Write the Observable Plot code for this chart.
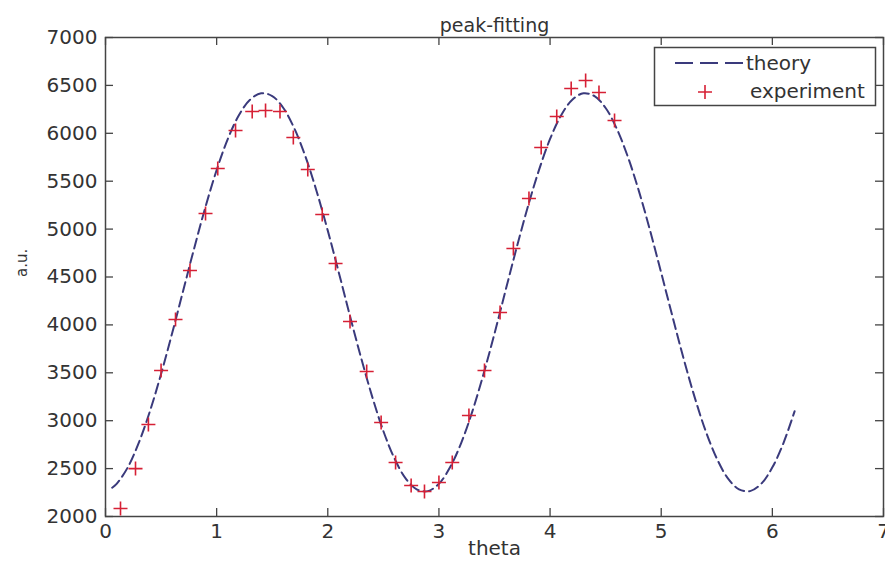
<!DOCTYPE html>
<html>
<head>
<meta charset="utf-8">
<script src="https://cdn.jsdelivr.net/npm/d3@7"></script>
<script src="https://cdn.jsdelivr.net/npm/@observablehq/plot@0.6"></script>
<style>
  html, body { margin: 0; padding: 0; background: #fff; }
  #chart svg { display: block; }
</style>
</head>
<body>
<div id="chart"></div>
<script>
// ---- data ----
const title = "peak-fitting";
const xLabel = "theta";
const yLabel = "a.u.";
const seriesNames = ["theory", "experiment"];

const xTicks = [0, 1, 2, 3, 4, 5, 6, 7];
const yTicks = [2000, 2500, 3000, 3500, 4000, 4500, 5000, 5500, 6000, 6500, 7000];

// theory curve (dashed)
const theoryX = [0.06, 0.1, 0.2, 0.3, 0.4, 0.5, 0.6, 0.7, 0.8, 0.9, 1.0, 1.1, 1.2, 1.3, 1.4, 1.5, 1.6, 1.7, 1.8, 1.9,
  2.0, 2.1, 2.2, 2.3, 2.4, 2.5, 2.6, 2.7, 2.8, 2.9, 3.0, 3.1, 3.2, 3.3, 3.4, 3.5, 3.6, 3.7, 3.8, 3.9,
  4.0, 4.1, 4.2, 4.3, 4.4, 4.5, 4.6, 4.7, 4.8, 4.9, 5.0, 5.1, 5.2, 5.3, 5.4, 5.5, 5.6, 5.7, 5.8, 5.9,
  6.0, 6.1, 6.2];
const theoryY = [2300, 2340, 2512, 2771, 3100, 3488, 3915, 4362, 4809, 5233, 5617, 5940, 6188, 6350, 6418, 6389, 6264, 6048, 5754, 5393,
  4984, 4543, 4092, 3655, 3249, 2892, 2606, 2398, 2284, 2265, 2342, 2513, 2767, 3095, 3482, 3909, 4362, 4809, 5234, 5615,
  5941, 6189, 6350, 6418, 6388, 6264, 6048, 5754, 5394, 4984, 4543, 4094, 3654, 3249, 2892, 2606, 2398, 2284, 2265, 2342,
  2513, 2767, 3098];

// experiment points (+ markers)
const expX = [0.135, 0.27, 0.386, 0.50, 0.63, 0.76, 0.90, 1.01, 1.17, 1.32, 1.44, 1.57, 1.69, 1.82, 1.95, 2.07, 2.20, 2.35,
  2.48, 2.61, 2.75, 2.87, 3.00, 3.12, 3.27, 3.41, 3.55, 3.67, 3.81, 3.92, 4.06, 4.19, 4.32, 4.44, 4.58];
const expY = [2083, 2500, 2960, 3524, 4056, 4568, 5163, 5633, 6030, 6228, 6238, 6228, 5956, 5622, 5152, 4641, 4036, 3514,
  2981, 2564, 2324, 2261, 2355, 2564, 3054, 3524, 4130, 4798, 5320, 5852, 6176, 6468, 6551, 6426, 6134];

// ---- build tables ----
const theory = theoryX.map((x, i) => ({x, y: theoryY[i]}));
const experiment = expX.map((x, i) => ({x, y: expY[i]}));

const font = "'DejaVu Sans', sans-serif";
const textColor = "#333";
const axisColor = "#444";
const lineColor = "#3a3a7c";
const markColor = "#d62035";
const tickLen = 8;

const W = 885, H = 564;
const mL = 105, mR = 2, mT = 37, mB = 48;

// custom "+" symbol
const plusSymbol = {
  draw(ctx, size) {
    const r = Math.sqrt(size / Math.PI);
    ctx.moveTo(-r, 0); ctx.lineTo(r, 0);
    ctx.moveTo(0, -r); ctx.lineTo(0, r);
  }
};

// tick rows: each tick drawn as a short rule from the frame edge inward
const xTickRows = xTicks.map(v => ({v}));
const yTickRows = yTicks.map(v => ({v}));

const chart = Plot.plot({
  width: W,
  height: H,
  marginLeft: mL,
  marginRight: mR,
  marginTop: mT,
  marginBottom: mB,
  style: {fontFamily: font, fontSize: "20px", color: textColor, background: "#fff"},
  x: {domain: [0, 7], ticks: xTicks},
  y: {domain: [2000, 7000], ticks: yTicks},
  marks: [
    Plot.frame({stroke: axisColor, strokeWidth: 1.5}),
    // inward ticks: rules anchored at the frame edges, shortened with insets
    Plot.ruleX(xTickRows, {x: "v", frameAnchor: "bottom", stroke: axisColor, strokeWidth: 1.3, insetTop: H - mT - mB - tickLen}),
    Plot.ruleX(xTickRows, {x: "v", stroke: axisColor, strokeWidth: 1.3, insetBottom: H - mT - mB - tickLen}),
    Plot.ruleY(yTickRows, {y: "v", stroke: axisColor, strokeWidth: 1.3, insetRight: W - mL - mR - tickLen}),
    Plot.ruleY(yTickRows, {y: "v", stroke: axisColor, strokeWidth: 1.3, insetLeft: W - mL - mR - tickLen}),
    // tick labels
    Plot.axisX(xTicks, {anchor: "bottom", tickSize: 0, tickPadding: 7, label: null, fill: textColor, fontSize: 20, tickFormat: d3.format("d")}),
    Plot.axisY(yTicks, {anchor: "left", tickSize: 0, tickPadding: 8, label: null, fill: textColor, fontSize: 20, tickFormat: d3.format("d")}),
    // theory line
    Plot.line(theory, {x: "x", y: "y", stroke: lineColor, strokeWidth: 2, strokeDasharray: "10,5", curve: "catmull-rom"}),
    // experiment markers
    Plot.dot(experiment, {x: "x", y: "y", symbol: plusSymbol, r: 7, stroke: markColor, strokeWidth: 1.6, fill: "none"}),
    // title and axis labels
    Plot.text([title], {frameAnchor: "top", dy: -19, fontSize: 19, fill: textColor}),
    Plot.text([xLabel], {frameAnchor: "bottom", dy: 38, fontSize: 20, fill: textColor}),
    Plot.text([yLabel], {frameAnchor: "left", dx: -83, rotate: -90, fontSize: 15, fill: textColor})
  ]
});

document.getElementById("chart").appendChild(chart);

// ---- legend (MATLAB-style box, top-right inside the plot) ----
const svg = d3.select(chart);
const lg = svg.append("g").attr("font-family", font).attr("font-size", 20)
  .attr("fill", textColor).attr("text-anchor", "start");
lg.append("rect").attr("x", 654.5).attr("y", 47.5).attr("width", 221).attr("height", 58)
  .attr("fill", "#fff").attr("stroke", axisColor).attr("stroke-width", 1.5);
lg.append("line").attr("x1", 675).attr("x2", 743).attr("y1", 63).attr("y2", 63)
  .attr("stroke", lineColor).attr("stroke-width", 2).attr("stroke-dasharray", "18,7");
lg.append("text").attr("x", 746).attr("y", 63).attr("dy", "0.35em").text(seriesNames[0]);
lg.append("path").attr("d", "M698,92h14M705,85v14").attr("stroke", markColor).attr("stroke-width", 1.6).attr("fill", "none");
lg.append("text").attr("x", 750).attr("y", 91).attr("dy", "0.35em").text(seriesNames[1]);
</script>
</body>
</html>
